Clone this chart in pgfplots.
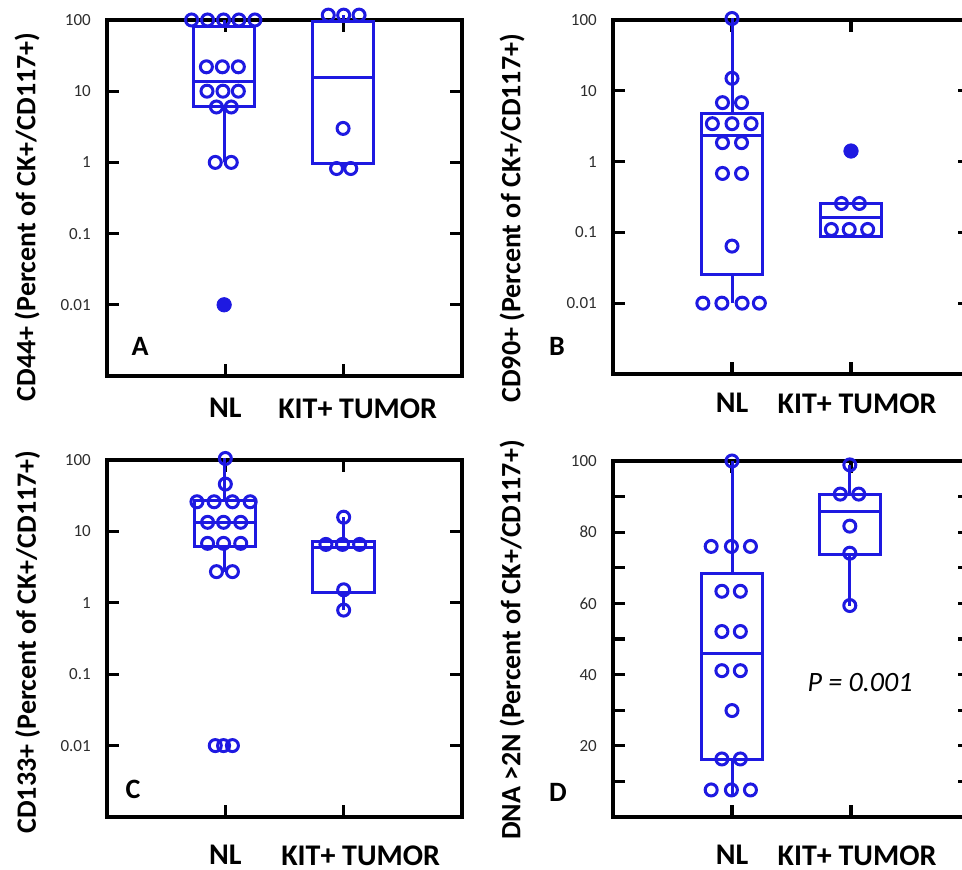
\documentclass[border=0pt]{standalone}
\usepackage{fontspec}
\setmainfont{Carlito}
\usepackage{pgfplots}
\pgfplotsset{compat=1.18}
\usepgfplotslibrary{statistics}
\definecolor{bluec}{RGB}{30,25,225}
\definecolor{tickgray}{RGB}{45,45,45}
\pgfplotsset{
  panel/.style={
    scale only axis, clip=false,
    xmin=0, xmax=3, xtick={1,2},
    tick align=inside, major tick length=6pt,
    axis line style={line width=1.8pt},
    every tick/.style={black, line width=1.6pt},
    yticklabel style={font=\fontsize{8.5}{9}\selectfont, text=tickgray, xshift=-4.6pt},
    xticklabel style={font=\bfseries\fontsize{15}{17}\selectfont, inner sep=0pt},
    ylabel style={font=\bfseries\fontsize{14}{16}\selectfont, anchor=center},
    yminorticks=false,
    boxplot/draw direction=y,
  },
  logpanel/.style={panel, ymin=0.001, ymax=100,
    ytick={0.01,0.1,1,10,100}, yticklabels={0.01,0.1,1,10,100}},
  opts/.style={only marks, mark=o, color=bluec, mark size=3pt, mark options={line width=1.5pt}},
  fpts/.style={only marks, mark=*, color=bluec, mark size=3.6pt},
  bx/.style={draw=bluec, line width=1.5pt, solid, mark=none},
}
\tikzset{panelletter/.style={font=\bfseries\fontsize{14}{16}\selectfont}}
\begin{document}
\begin{tikzpicture}

% A: CD44+
\begin{semilogyaxis}[logpanel, at={(53.5pt,247pt)}, width=177.5pt, height=178pt,
  xticklabels={NL,\hspace*{14pt}KIT+ TUMOR},
  xticklabel style={yshift=-11pt},
  ylabel={CD44+ (Percent of CK+/CD117+)},
  ylabel style={at={(rel axis cs:-0.225,0.447)}}]
  \addplot[bx, boxplot prepared={draw direction=y, draw position=0.99, lower whisker=1, lower quartile=6,
    median=13.8, upper quartile=82, upper whisker=100, box extend=0.515, whisker extend=0}] coordinates {};
  \addplot[bx, boxplot prepared={draw direction=y, draw position=1.995, lower whisker=0.82, lower quartile=0.97,
    median=15.7, upper quartile=95, upper whisker=117, box extend=0.515, whisker extend=0}] coordinates {};
  \addplot[opts] coordinates {
    (0.715,100) (0.85,100) (0.985,100) (1.115,100) (1.25,100)
    (0.84,22) (0.975,22) (1.11,22)
    (0.845,10) (0.98,10) (1.11,10)
    (0.925,6) (1.05,6)
    (0.915,1) (1.05,1)
    (1.87,117) (2,117) (2.13,117)
    (1.995,3.0)
    (1.94,0.82) (2.06,0.82)
  };
  \addplot[fpts] coordinates {(0.99,0.01)};
  \node[panelletter] at (rel axis cs:0.093,0.084) {A};
\end{semilogyaxis}

% B: CD90+
\begin{semilogyaxis}[logpanel, at={(306.5pt,248pt)}, width=178.5pt, height=177pt,
  xticklabels={NL,\hspace*{6pt}KIT+ TUMOR},
  xticklabel style={yshift=-9.5pt},
  ylabel={CD90+ (Percent of CK+/CD117+)},
  ylabel style={at={(rel axis cs:-0.283,0.44)}}]
  \addplot[bx, boxplot prepared={draw direction=y, draw position=1, lower whisker=0.01, lower quartile=0.0257,
    median=2.32, upper quartile=4.74, upper whisker=105, box extend=0.518, whisker extend=0}] coordinates {};
  \addplot[bx, boxplot prepared={draw direction=y, draw position=2, lower whisker=0.088, lower quartile=0.088,
    median=0.163, upper quartile=0.26, upper whisker=0.26, box extend=0.515, whisker extend=0}] coordinates {};
  \addplot[opts] coordinates {
    (1,105)
    (1,15)
    (0.92,6.8) (1.08,6.8)
    (0.835,3.43) (1,3.43) (1.16,3.43)
    (0.92,1.85) (1.08,1.85)
    (0.92,0.68) (1.08,0.68)
    (1,0.064)
    (0.755,0.01) (0.915,0.01) (1.085,0.01) (1.23,0.01)
    (1.92,0.256) (2.07,0.256)
    (1.835,0.11) (1.985,0.11) (2.14,0.11)
  };
  \addplot[fpts] coordinates {(2,1.41)};
  \node[panelletter] at (rel axis cs:-0.157,0.079) {B};
\end{semilogyaxis}

% C: CD133+
\begin{semilogyaxis}[logpanel, at={(53.5pt,26.5pt)}, width=177.5pt, height=178.5pt,
  xticklabels={NL,\hspace*{17pt}KIT+ TUMOR},
  xticklabel style={yshift=-14pt},
  ylabel={CD133+ (Percent of CK+/CD117+)},
  ylabel style={at={(rel axis cs:-0.224,0.49)}}]
  \addplot[bx, boxplot prepared={draw direction=y, draw position=0.995, lower whisker=2.73, lower quartile=6.15,
    median=13.4, upper quartile=26.7, upper whisker=105, box extend=0.515, whisker extend=0}] coordinates {};
  \addplot[bx, boxplot prepared={draw direction=y, draw position=2, lower whisker=0.79, lower quartile=1.38,
    median=5.95, upper quartile=7.2, upper whisker=15.8, box extend=0.52, whisker extend=0}] coordinates {};
  \addplot[opts] coordinates {
    (1,105)
    (1,46)
    (0.76,26) (0.905,26) (1.06,26) (1.21,26)
    (0.85,13.4) (0.985,13.4) (1.13,13.4)
    (0.85,6.8) (0.985,6.8) (1.13,6.8)
    (0.925,2.73) (1.06,2.73)
    (0.915,0.01) (0.985,0.01) (1.06,0.01)
    (2,15.8)
    (1.85,6.57) (1.99,6.57) (2.135,6.57)
    (2,1.52)
    (2,0.79)
  };
  \node[panelletter] at (rel axis cs:0.073,0.076) {C};
\end{semilogyaxis}

% D: DNA >2N
\begin{axis}[panel, at={(306.5pt,26.5pt)}, width=178.5pt, height=178pt,
  ymin=0, ymax=100, ytick={10,20,...,100}, yticklabels={,20,,40,,60,,80,,100},
  xticklabels={NL,\hspace*{6pt}KIT+ TUMOR},
  xticklabel style={yshift=-14pt},
  ylabel={DNA >2N (Percent of CK+/CD117+)},
  ylabel style={at={(rel axis cs:-0.283,0.497)}}]
  \addplot[bx, boxplot prepared={draw direction=y, draw position=1, lower whisker=5.6, lower quartile=16.1,
    median=45.9, upper quartile=68.5, upper whisker=100, box extend=0.52, whisker extend=0}] coordinates {};
  \addplot[bx, boxplot prepared={draw direction=y, draw position=1.99, lower whisker=59.4, lower quartile=73.8,
    median=85.9, upper quartile=90.7, upper whisker=98.9, box extend=0.515, whisker extend=0}] coordinates {};
  \addplot[opts] coordinates {
    (1,100)
    (0.825,76) (0.995,76) (1.155,76)
    (0.915,63.4) (1.07,63.4)
    (0.915,52.1) (1.07,52.1)
    (0.915,41.1) (1.07,41.1)
    (1,29.9)
    (0.915,16.3) (1.07,16.3)
    (0.825,7.6) (0.995,7.6) (1.155,7.6)
    (1.99,98.9)
    (1.91,90.7) (2.065,90.7)
    (1.99,81.7)
    (1.99,74.1)
    (1.99,59.4)
  };
  \node[panelletter] at (rel axis cs:-0.154,0.07) {D};
  \node[font=\itshape\fontsize{14}{16}\selectfont] at (rel axis cs:0.692,0.379) {P = 0.001};
\end{axis}

\pgfresetboundingbox
\path[use as bounding box] (0,0) rectangle (481pt,435pt);
\end{tikzpicture}
\end{document}
